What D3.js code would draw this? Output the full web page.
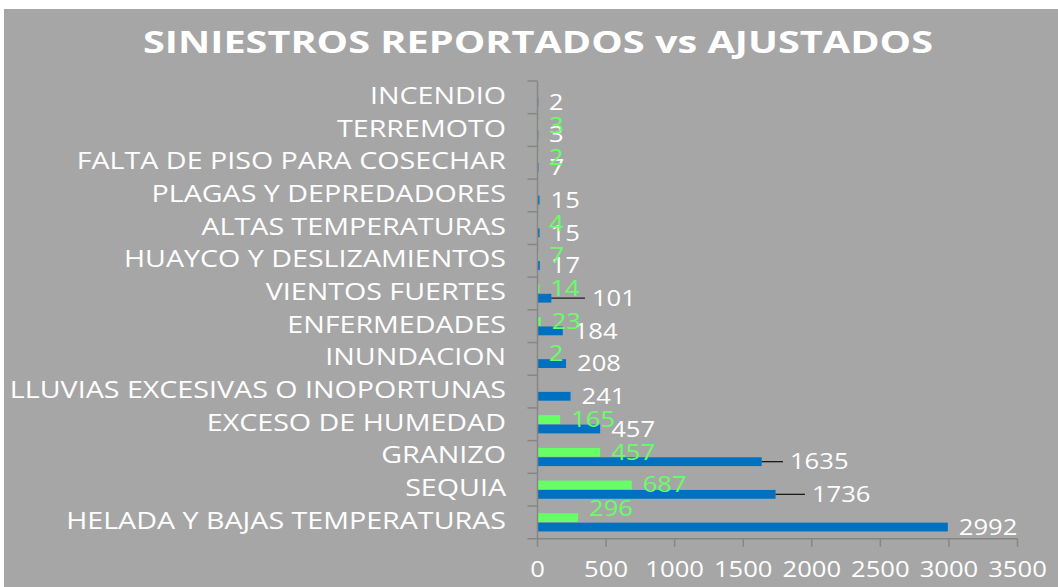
<!DOCTYPE html>
<html>
<head>
<meta charset="utf-8">
<script src="https://cdn.jsdelivr.net/npm/d3@7"></script>
<style>
  html, body { margin: 0; padding: 0; background: #ffffff; }
  svg { display: block; }
  text { font-family: "Open Sans", "DejaVu Sans", sans-serif; }
</style>
</head>
<body>
<svg id="chart" width="1058" height="587"></svg>
<script>
// ---- data (bottom to top order as in the picture) ----
const categories = [
  "HELADA Y BAJAS TEMPERATURAS",
  "SEQUIA",
  "GRANIZO",
  "EXCESO DE HUMEDAD",
  "LLUVIAS EXCESIVAS O INOPORTUNAS",
  "INUNDACION",
  "ENFERMEDADES",
  "VIENTOS FUERTES",
  "HUAYCO Y DESLIZAMIENTOS",
  "ALTAS TEMPERATURAS",
  "PLAGAS Y DEPREDADORES",
  "FALTA DE PISO PARA COSECHAR",
  "TERREMOTO",
  "INCENDIO"
];
const reportados = [2992, 1736, 1635, 457, 241, 208, 184, 101, 17, 15, 15, 7, 3, 2];
const ajustados  = [296, 687, 457, 165, null, 2, 23, 14, 7, 4, null, 2, 3, null];
// upper end of the black error line drawn on some "reportados" bars
const errorUpper = [null, 1950, 1790, null, null, null, null, 346, null, null, null, null, null, null];
const xTicks = [0, 500, 1000, 1500, 2000, 2500, 3000, 3500];
const title = "SINIESTROS REPORTADOS vs AJUSTADOS";

// ---- layout ----
const W = 1058, H = 587;
const plot = { left: 537.5, right: 1017.5, top: 81, bottom: 538.7 };
const sxCat = 1.245, sxNum = 1.22; // horizontal text stretch of the original
const colBlue = "#0070c0", colGreen = "#66ff66", bg = "#a6a6a6", axisCol = "#868686";

const svg = d3.select("#chart");
svg.append("rect").attr("x", 0).attr("y", 0).attr("width", W).attr("height", H).attr("fill", "#ffffff");
svg.append("rect").attr("x", 4).attr("y", 9).attr("width", W - 4).attr("height", H - 9).attr("fill", bg);

const x = d3.scaleLinear().domain([0, 3500]).range([plot.left, plot.right]);
const y = d3.scaleBand().domain(categories.slice().reverse()).range([plot.top, plot.bottom]).paddingInner(0).paddingOuter(0);
const bw = y.bandwidth();
const barH = 8.8;

// title
svg.append("text")
  .attr("x", 538).attr("y", 53)
  .attr("text-anchor", "middle")
  .attr("font-size", 30).attr("font-weight", "bold")
  .attr("fill", "#ffffff")
  .attr("textLength", 790).attr("lengthAdjust", "spacingAndGlyphs")
  .text(title);

// bars
const g = svg.append("g");
categories.forEach((c, i) => {
  const yc = y(c) + bw / 2;
  const a = ajustados[i];
  const r = reportados[i];
  if (a !== null) {
    g.append("rect")
      .attr("x", x(0)).attr("y", yc - barH - 0.3)
      .attr("width", Math.max(x(a) - x(0), 0.8)).attr("height", barH)
      .attr("fill", colGreen);
  }
  g.append("rect")
    .attr("x", x(0)).attr("y", yc + 0.3)
    .attr("width", Math.max(x(r) - x(0), 0.8)).attr("height", barH)
    .attr("fill", colBlue);
  if (errorUpper[i] !== null) {
    g.append("line")
      .attr("x1", x(r)).attr("x2", x(errorUpper[i]))
      .attr("y1", yc + 0.3 + barH / 2).attr("y2", yc + 0.3 + barH / 2)
      .attr("stroke", "#1a1a1a").attr("stroke-width", 1.3);
  }
});

// axes
const axG = svg.append("g");
axG.append("line").attr("x1", plot.left).attr("x2", plot.left).attr("y1", plot.top).attr("y2", plot.bottom)
  .attr("stroke", axisCol).attr("stroke-width", 1.5);
axG.append("line").attr("x1", plot.left - 10).attr("x2", plot.right).attr("y1", plot.bottom).attr("y2", plot.bottom)
  .attr("stroke", axisCol).attr("stroke-width", 1.5);
// category ticks
categories.forEach(c => {
  axG.append("line").attr("x1", plot.left - 10).attr("x2", plot.left)
    .attr("y1", y(c)).attr("y2", y(c)).attr("stroke", axisCol).attr("stroke-width", 1.5);
});
// x ticks
xTicks.forEach(t => {
  axG.append("line").attr("x1", x(t)).attr("x2", x(t)).attr("y1", plot.bottom).attr("y2", plot.bottom + 8)
    .attr("stroke", axisCol).attr("stroke-width", 1.5);
  svg.append("text")
    .attr("transform", `translate(${x(t)},${577}) scale(${sxNum},1)`)
    .attr("text-anchor", "middle").attr("font-size", 21).attr("fill", "#ffffff")
    .text(t);
});

// category labels
categories.forEach(c => {
  svg.append("text")
    .attr("transform", `translate(${506},${y(c) + bw / 2 + 6.5}) scale(${sxCat},1)`)
    .attr("text-anchor", "end").attr("font-size", 23).attr("fill", "#ffffff")
    .text(c);
});

// value labels
const labelNudge = { "HELADA Y BAJAS TEMPERATURAS": -9 };
categories.forEach((c, i) => {
  const yc = y(c) + bw / 2;
  const r = reportados[i];
  const a = ajustados[i];
  const endX = errorUpper[i] !== null ? x(errorUpper[i]) + 7 : x(r) + 11;
  svg.append("text")
    .attr("transform", `translate(${endX},${yc + 0.3 + barH / 2 + 7.7}) scale(${sxNum},1)`)
    .attr("font-size", 21).attr("fill", "#ffffff")
    .text(r);
  if (a !== null) {
    svg.append("text")
      .attr("transform", `translate(${x(a) + 11},${yc - barH / 2 + 7 + (labelNudge[c] || 0)}) scale(${sxNum},1)`)
      .attr("font-size", 21).attr("fill", colGreen)
      .text(a);
  }
});
</script>
</body>
</html>
